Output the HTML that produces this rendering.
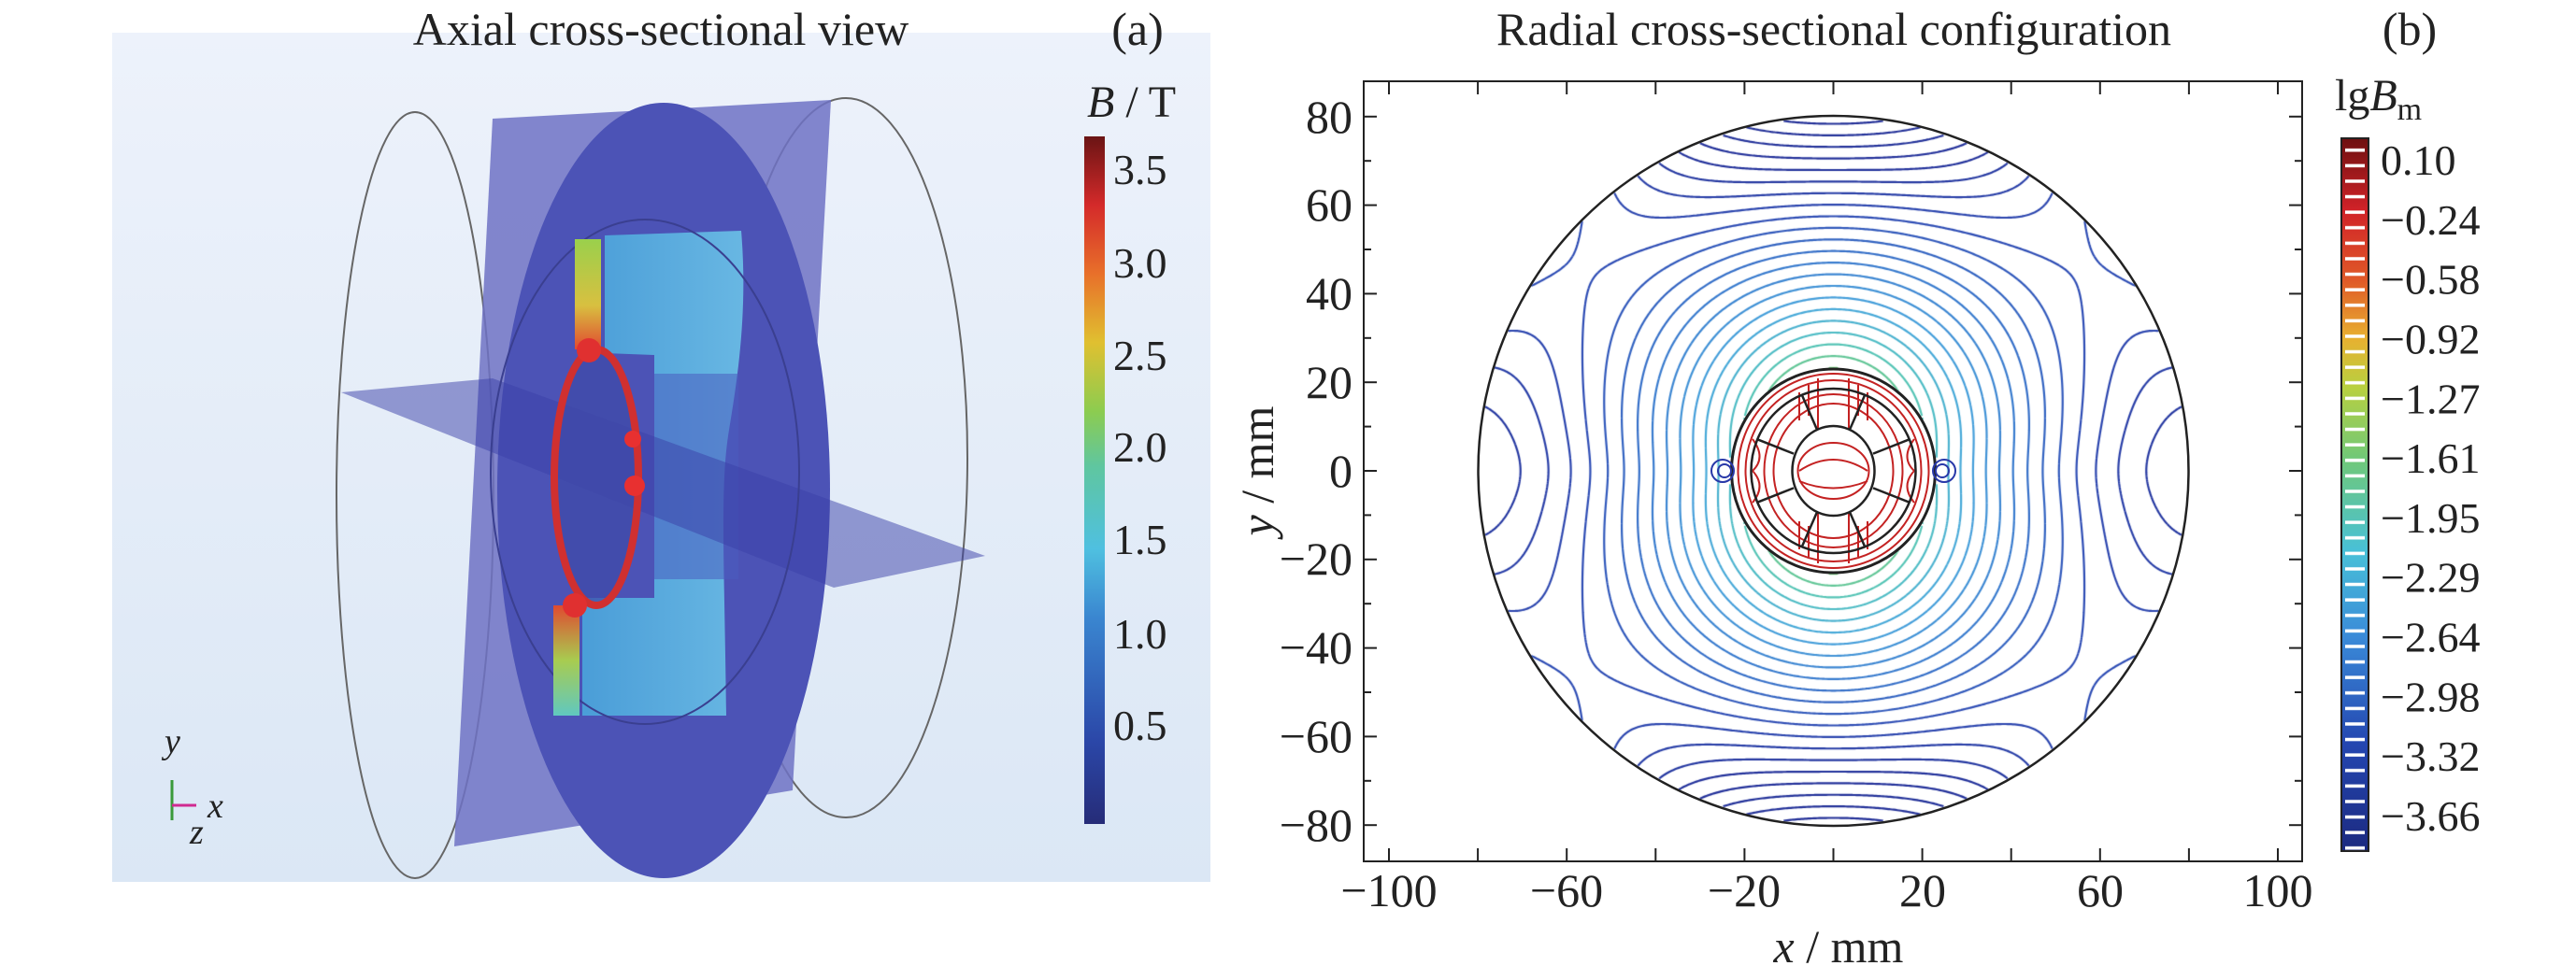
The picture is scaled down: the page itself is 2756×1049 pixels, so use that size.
<!DOCTYPE html>
<html><head><meta charset="utf-8">
<style>
html,body{margin:0;padding:0;background:#fff;}
body{width:2756px;height:1049px;position:relative;overflow:hidden;font-family:"Liberation Serif",serif;}
svg{position:absolute;left:0;top:0;}
#c{position:absolute;left:1459px;top:87px;}
</style></head><body>
<svg width="2756" height="1049" viewBox="0 0 2756 1049" xmlns="http://www.w3.org/2000/svg">
<defs>
<linearGradient id="bg" x1="0" y1="0" x2="0" y2="1"><stop offset="0" stop-color="#edf2fb"/><stop offset="1" stop-color="#dbe7f5"/></linearGradient>
<linearGradient id="jetA" x1="0" y1="1" x2="0" y2="0">
<stop offset="0" stop-color="#262c78"/><stop offset="0.12" stop-color="#2b47a8"/><stop offset="0.3" stop-color="#3a86d0"/><stop offset="0.4" stop-color="#4fc0e0"/><stop offset="0.52" stop-color="#5fc6a0"/><stop offset="0.6" stop-color="#8ccc50"/><stop offset="0.7" stop-color="#e0c030"/><stop offset="0.8" stop-color="#e8702a"/><stop offset="0.9" stop-color="#d42a2a"/><stop offset="1" stop-color="#6a1414"/></linearGradient>
<linearGradient id="jetB" x1="0" y1="1" x2="0" y2="0">
<stop offset="0" stop-color="#1c2a80"/><stop offset="0.15" stop-color="#2446b0"/><stop offset="0.3" stop-color="#3a8ad8"/><stop offset="0.42" stop-color="#48c0d8"/><stop offset="0.55" stop-color="#70c878"/><stop offset="0.65" stop-color="#b8d040"/><stop offset="0.72" stop-color="#e8b030"/><stop offset="0.8" stop-color="#e05a28"/><stop offset="0.9" stop-color="#d02228"/><stop offset="1" stop-color="#6e1010"/></linearGradient>
<pattern id="stripes" width="10" height="16.6" patternUnits="userSpaceOnUse" y="148"><rect y="11" width="10" height="3.5" fill="#fff"/></pattern>
<linearGradient id="cyan" x1="0" y1="0" x2="1" y2="0"><stop offset="0" stop-color="#4ab0e0"/><stop offset="1" stop-color="#6fd0ee"/></linearGradient>
<linearGradient id="grn" x1="0" y1="0" x2="0" y2="1"><stop offset="0" stop-color="#9ad04c"/><stop offset="0.6" stop-color="#d8c040"/><stop offset="1" stop-color="#e04a30"/></linearGradient>
<linearGradient id="grn2" x1="0" y1="1" x2="0" y2="0"><stop offset="0" stop-color="#60c8c0"/><stop offset="0.5" stop-color="#a8cc50"/><stop offset="1" stop-color="#e04a30"/></linearGradient>
</defs>
<!-- Panel (a) -->
<rect x="120" y="35" width="1175" height="909" fill="url(#bg)"/>
<text x="707" y="48" font-size="50" text-anchor="middle" fill="#222">Axial cross-sectional view</text>
<text x="1217" y="48" font-size="50" text-anchor="middle" fill="#222">(a)</text>
<ellipse cx="444" cy="530" rx="84" ry="410" fill="none" stroke="#666" stroke-width="2"/>
<ellipse cx="905" cy="490" rx="130" ry="385" fill="none" stroke="#666" stroke-width="2"/>
<polygon points="527,127 889,107 848,846 486,906" fill="#6e72c4" fill-opacity="0.85"/>
<ellipse cx="710" cy="525" rx="178" ry="415" fill="#4c53b6"/>
<path d="M647,252 L793,247 C800,330 790,400 780,460 C770,520 775,600 777,766 L623,766 L623,640 L700,640 L700,380 L647,378 Z" fill="url(#cyan)" fill-opacity="0.8"/>
<rect x="700" y="400" width="90" height="220" fill="#4a5cc0" fill-opacity="0.55"/>
<polygon points="365,420 527,405 1054,595 892,629" fill="#3a40a8" fill-opacity="0.5"/>
<ellipse cx="690" cy="505" rx="165" ry="270" fill="none" stroke="#3a3f90" stroke-width="2"/>
<ellipse cx="640" cy="510" rx="45" ry="135" fill="#3f4aa8" fill-opacity="0.7"/>
<rect x="615" y="256" width="28" height="118" fill="url(#grn)"/>
<rect x="592" y="648" width="28" height="118" fill="url(#grn2)"/>
<ellipse cx="638" cy="511" rx="45" ry="137" fill="none" stroke="#d03030" stroke-width="8"/>
<circle cx="630" cy="375" r="13" fill="#e03030"/><circle cx="615" cy="648" r="13" fill="#e03030"/>
<circle cx="677" cy="470" r="9" fill="#e83030"/><circle cx="679" cy="520" r="11" fill="#e83030"/>
<line x1="184" y1="878" x2="184" y2="835" stroke="#3a9a3a" stroke-width="3"/>
<line x1="184" y1="862" x2="210" y2="862" stroke="#d02a90" stroke-width="3"/>
<text x="176" y="806" font-size="38" font-style="italic" fill="#222">y</text>
<text x="222" y="875" font-size="38" font-style="italic" fill="#222">x</text>
<text x="203" y="903" font-size="38" font-style="italic" fill="#222">z</text>
<rect x="1160" y="146" width="22" height="736" fill="url(#jetA)"/>
<text x="1163" y="125" font-size="48" fill="#222"><tspan font-style="italic">B</tspan> / T</text>
<g font-size="46" fill="#222">
<text x="1191" y="197">3.5</text><text x="1191" y="297">3.0</text><text x="1191" y="396">2.5</text><text x="1191" y="494">2.0</text><text x="1191" y="593">1.5</text><text x="1191" y="694">1.0</text><text x="1191" y="792">0.5</text>
</g>
<!-- Panel (b) -->
<text x="1962" y="48" font-size="50" text-anchor="middle" fill="#222">Radial cross-sectional configuration</text>
<text x="2578" y="48" font-size="50" text-anchor="middle" fill="#222">(b)</text>
<rect x="1459" y="87" width="1004" height="835" fill="none" stroke="#222" stroke-width="2"/>
<g id="ticks" stroke="#222" stroke-width="2"></g>
<g font-size="50" fill="#222" text-anchor="middle">
<text x="1486" y="970">−100</text><text x="1676" y="970">−60</text><text x="1866" y="970">−20</text><text x="2057" y="970">20</text><text x="2247" y="970">60</text><text x="2437" y="970">100</text>
</g>
<g font-size="50" fill="#222" text-anchor="end">
<text x="1447" y="142">80</text><text x="1447" y="236">60</text><text x="1447" y="331">40</text><text x="1447" y="426">20</text><text x="1447" y="521">0</text><text x="1447" y="615">−20</text><text x="1447" y="710">−40</text><text x="1447" y="805">−60</text><text x="1447" y="900">−80</text>
</g>
<text x="1967" y="1030" font-size="50" text-anchor="middle" fill="#222"><tspan font-style="italic">x</tspan> / mm</text>
<text transform="translate(1362,504) rotate(-90)" font-size="50" text-anchor="middle" fill="#222"><tspan font-style="italic">y</tspan> / mm</text>
<rect x="2505" y="148" width="29" height="763" fill="url(#jetB)"/>
<rect x="2509" y="148" width="21" height="763" fill="url(#stripes)"/>
<rect x="2505" y="148" width="29" height="763" fill="none" stroke="#222" stroke-width="2"/>
<text x="2498" y="118" font-size="48" fill="#222">lg<tspan font-style="italic">B</tspan><tspan font-size="34" dy="10">m</tspan></text>
<g id="cbl" font-size="46" fill="#222"></g>
</svg>
<canvas id="c" width="1004" height="835"></canvas>
<svg width="2756" height="1049" style="pointer-events:none">
<g fill="none" stroke-width="2.5">
<circle cx="1961.5" cy="504" r="380" stroke="#222"/>
<g stroke="#c42222" stroke-width="2">
<ellipse cx="1961.5" cy="504" rx="102" ry="104"/><ellipse cx="1961.5" cy="504" rx="94" ry="97"/>
<ellipse cx="1961.5" cy="504" rx="64" ry="72"/><ellipse cx="1961.5" cy="504" rx="74" ry="82"/>
<ellipse cx="1961.5" cy="504" rx="38" ry="30"/><path d="M1925,504 Q1961,480 1998,504 M1925,515 Q1961,530 1998,515"/>
<path d="M1945,405 L1945,460 M1978,405 L1978,460 M1945,548 L1945,603 M1978,548 L1978,603 M1935,412 L1935,445 M1988,412 L1988,445 M1935,563 L1935,596 M1988,563 L1988,596 M1925,420 L1925,450 M1998,420 L1998,450 M1925,558 L1925,588 M1998,558 L1998,588"/>
<path d="M1875,470 Q1890,490 1875,504 M2048,470 Q2033,490 2048,504 M1875,538 Q1890,520 1875,504 M2048,538 Q2033,520 2048,504"/>
</g>
<circle cx="1961.5" cy="504" r="109" stroke="#222" stroke-width="3"/>
<circle cx="1961.5" cy="504" r="88" stroke="#222"/>
<ellipse cx="1961.5" cy="504" rx="44" ry="48" stroke="#222"/>
<g id="spokes" stroke="#222" stroke-width="2.5"></g>
</g>
<g fill="none" stroke="#2838a8" stroke-width="2"><ellipse cx="1843" cy="504" rx="12" ry="12"/><ellipse cx="1845" cy="504" rx="7" ry="7"/><ellipse cx="2080" cy="504" rx="12" ry="12"/><ellipse cx="2078" cy="504" rx="7" ry="7"/></g>
</svg>
<script>
(function(){
var NS="http://www.w3.org/2000/svg";
var t=document.getElementById('ticks');
function L(x1,y1,x2,y2){var l=document.createElementNS(NS,'line');l.setAttribute('x1',x1);l.setAttribute('y1',y1);l.setAttribute('x2',x2);l.setAttribute('y2',y2);t.appendChild(l);}
for(var v=-100;v<=100;v+=20){var x=1961.5+v*4.755;L(x,922,x,908);L(x,87,x,101);}
for(var v=-80;v<=80;v+=10){var y=504-v*4.74;var len=(v%20==0)?14:8;L(1459,y,1459+len,y);L(2463,y,2463-len,y);}
var cb=document.getElementById('cbl');
var lab2=["0.10","−0.24","−0.58","−0.92","−1.27","−1.61","−1.95","−2.29","−2.64","−2.98","−3.32","−3.66"];
for(var i=0;i<12;i++){var y=171+i*(702/11);var tx=document.createElementNS(NS,'text');tx.setAttribute('x',2547);tx.setAttribute('y',y+16);tx.textContent=lab2[i];cb.appendChild(tx);}
var sp=document.getElementById('spokes');
for(var k=0;k<8;k++){var a=k*Math.PI/4+Math.PI/8;var l=document.createElementNS(NS,'line');
l.setAttribute('x1',1961.5+46*Math.cos(a));l.setAttribute('y1',504+48*Math.sin(a));l.setAttribute('x2',1961.5+88*Math.cos(a));l.setAttribute('y2',504+88*Math.sin(a));sp.appendChild(l);}
var c=document.getElementById('c').getContext('2d');
function h(x,y){var ay=Math.sqrt(y*y+36)-8;var xx=x*(1.05-0.3*x*x/6400);var D=Math.sqrt(xx*xx+ay*ay);var q=y/80;return D-0.013*x*x*q*q;}
var N=400,x0=-80,st=160/N,G=[];
for(var j=0;j<=N;j++){G[j]=new Float64Array(N+1);for(var i=0;i<=N;i++){G[j][i]=h(x0+i*st,x0+j*st);}}
function px(x){return 502.5+x*4.755;}function py(y){return 417-y*4.74;}
function col(Lv){var stops=[[16,[110,200,120]],[22,[80,195,190]],[30,[70,165,220]],[40,[55,120,205]],[50,[45,75,180]],[60,[35,50,155]],[100,[30,40,140]]];
if(Lv<=stops[0][0])return 'rgb(110,200,120)';
for(var i=1;i<stops.length;i++){if(Lv<=stops[i][0]){var a=stops[i-1],b=stops[i],f=(Lv-a[0])/(b[0]-a[0]);return 'rgb('+[0,1,2].map(function(k){return Math.round(a[1][k]+(b[1][k]-a[1][k])*f);}).join(',')+')';}}return 'rgb(30,40,140)';}
c.lineWidth=2.2;
for(var lv=16;lv<=80;lv+=2.6){
c.strokeStyle=col(lv);c.beginPath();
for(var j=0;j<N;j++)for(var i=0;i<N;i++){
var xa=x0+i*st,ya=x0+j*st,xc=xa+st/2,yc=ya+st/2,rr=Math.sqrt(xc*xc+yc*yc);
if(rr>79.8||rr<23.3)continue;
var a=G[j][i],b=G[j][i+1],cc=G[j+1][i+1],d=G[j+1][i];
var idx=(a>lv?1:0)|(b>lv?2:0)|(cc>lv?4:0)|(d>lv?8:0);
if(idx==0||idx==15)continue;
var P=[];
function e(v1,v2,X1,Y1,X2,Y2){var f=(lv-v1)/(v2-v1);P.push([X1+(X2-X1)*f,Y1+(Y2-Y1)*f]);}
if((a>lv)!=(b>lv))e(a,b,xa,ya,xa+st,ya);
if((b>lv)!=(cc>lv))e(b,cc,xa+st,ya,xa+st,ya+st);
if((cc>lv)!=(d>lv))e(cc,d,xa+st,ya+st,xa,ya+st);
if((d>lv)!=(a>lv))e(d,a,xa,ya+st,xa,ya);
for(var k=0;k+1<P.length;k+=2){c.moveTo(px(P[k][0]),py(P[k][1]));c.lineTo(px(P[k+1][0]),py(P[k+1][1]));}
}
c.stroke();}
})();
</script>
</body></html>
